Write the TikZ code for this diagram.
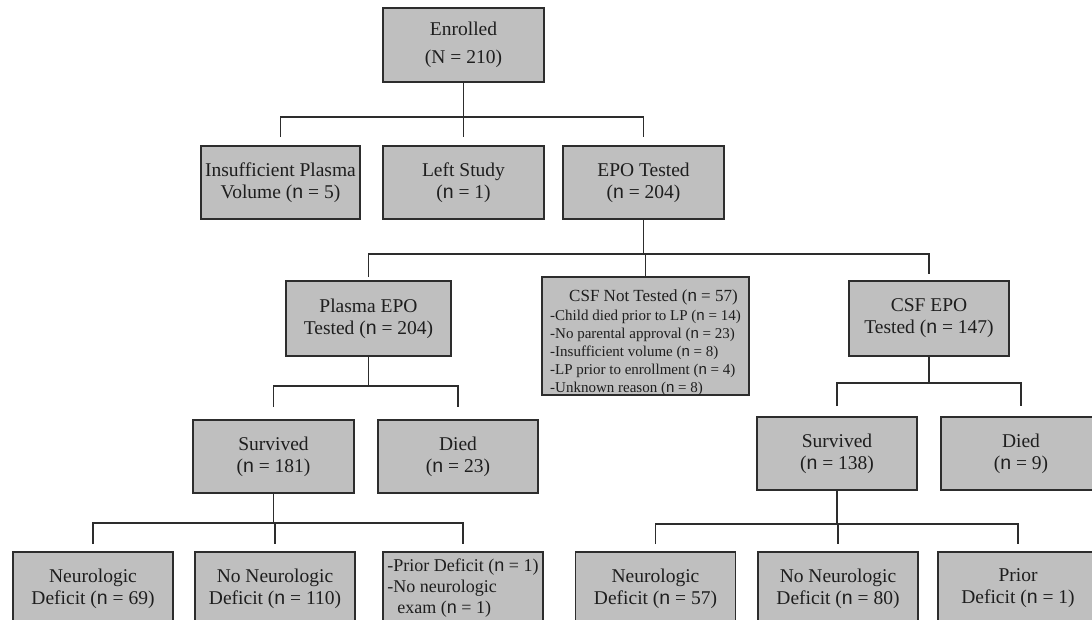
\documentclass[tikz,border=0pt]{standalone}
\usepackage{fontspec}
\setmainfont{Liberation Serif}
\newfontfamily\nfont{Liberation Sans}
\newcommand{\nv}{{\nfont n}}
\definecolor{boxfill}{RGB}{191,191,191}
\definecolor{boxline}{RGB}{45,45,45}
\definecolor{ink}{RGB}{30,30,30}
\begin{document}
\begin{tikzpicture}[
    x=1pt, y=-1pt,
    box/.style={draw=boxline, fill=boxfill, line width=1.8pt, text=ink, inner sep=0pt,
      align=center, minimum width=160pt, minimum height=73pt, font=\fontsize{19.5}{22}\selectfont},
    link/.style={draw=boxline, line width=1.4pt}
  ]
  \useasboundingbox (0,0) rectangle (1092,620);
  \clip (0,0) rectangle (1092,620);
  % top two rows
  \node[box, minimum width=161pt, minimum height=74pt, font=\fontsize{19.5}{28}\selectfont] (enrolled) at (463.5,45) {Enrolled\\(N = 210)};
  \node[box, minimum width=159pt] (insuff) at (280.5,182.5) {Insufficient Plasma\\Volume (\nv{} = 5)};
  \node[box, minimum width=161pt] (leftstudy) at (463.5,182.5) {Left Study\\(\nv{} = 1)};
  \node[box, minimum width=161pt] (epotested) at (643.5,182.5) {EPO Tested\\(\nv{} = 204)};
  % third row
  \node[box, minimum width=207pt, minimum height=118pt, align=left, text height=112pt, text depth=0pt,
    font=\fontsize{15}{18}\selectfont] (csfnot) at (645.5,336)
    {\hspace*{19pt}{\fontsize{17}{18}\selectfont CSF Not Tested (\nv{} = 57)}\\[1pt]
     -Child died prior to LP (\nv{} = 14)\\
     -No parental approval (\nv{} = 23)\\
     -Insufficient volume (\nv{} = 8)\\
     -LP prior to enrollment (\nv{} = 4)\\
     -Unknown reason (\nv{} = 8)};
  \node[box, minimum width=165pt, minimum height=75pt] (plasma) at (368.5,318.5) {Plasma EPO\\Tested (\nv{} = 204)};
  \node[box, minimum height=75pt] (csfepo) at (929,318.5) {CSF EPO\\Tested (\nv{} = 147)};
  % outcome rows
  \node[box, minimum width=161pt] (survA) at (273.5,456.5) {Survived\\(\nv{} = 181)};
  \node[box] (diedA) at (458,456.5) {Died\\(\nv{} = 23)};
  \node[box] (survB) at (837,453.5) {Survived\\(\nv{} = 138)};
  \node[box] (diedB) at (1021,453.5) {Died\\(\nv{} = 9)};
  \node[box] (neuroA) at (93,588.5) {Neurologic\\Deficit (\nv{} = 69)};
  \node[box] (noneuroA) at (275,588.5) {No Neurologic\\Deficit (\nv{} = 110)};
  \node[box, align=left, font=\fontsize{18}{21}\selectfont] (priorA) at (463,588.5)
    {-Prior Deficit (\nv{} = 1)\\-No neurologic\\\hspace*{10pt}exam (\nv{} = 1)};
  \node[box] (neuroB) at (655.5,588.5) {Neurologic\\Deficit (\nv{} = 57)};
  \node[box] (noneuroB) at (838,588.5) {No Neurologic\\Deficit (\nv{} = 80)};
  \node[box] (priorB) at (1018,588.5) {Prior\\Deficit (\nv{} = 1)};
  % forks
  \coordinate (bus1) at (0,117);
  \coordinate (bus2) at (0,254);
  \coordinate (bus3) at (0,386);
  \coordinate (bus4) at (0,383);
  \coordinate (bus5) at (0,523);
  \coordinate (bus6) at (0,524);
  \draw[link] (enrolled.south) -- (enrolled.south |- bus1);
  \draw[link] ([yshift=8pt]insuff.north) |- (epotested.north |- bus1) -- ([yshift=8pt]epotested.north);
  \draw[link] (leftstudy.north |- bus1) -- ([yshift=8pt]leftstudy.north);
  \draw[link] (epotested.south) -- (epotested.south |- bus2);
  \draw[link] ([yshift=3pt]plasma.north) |- (csfepo.north |- bus2) -- ([yshift=6pt]csfepo.north);
  \draw[link] (csfnot.north |- bus2) -- (csfnot.north);
  \draw[link] (plasma.south) -- (plasma.south |- bus3);
  \draw[link] ([yshift=12pt]survA.north) |- (diedA.north |- bus3) -- ([yshift=12pt]diedA.north);
  \draw[link] (csfepo.south) -- (csfepo.south |- bus4);
  \draw[link] ([yshift=10pt]survB.north) |- (diedB.north |- bus4) -- ([yshift=10pt]diedB.north);
  \draw[link] (survA.south) -- (survA.south |- bus5);
  \draw[link] ([yshift=7pt]neuroA.north) |- (priorA.north |- bus5) -- ([yshift=7pt]priorA.north);
  \draw[link] (noneuroA.north |- bus5) -- ([yshift=7pt]noneuroA.north);
  \draw[link] (survB.south) -- (survB.south |- bus6);
  \draw[link] ([yshift=7pt]neuroB.north) |- (priorB.north |- bus6) -- ([yshift=7pt]priorB.north);
  \draw[link] (noneuroB.north |- bus6) -- ([yshift=7pt]noneuroB.north);
\end{tikzpicture}
\end{document}
